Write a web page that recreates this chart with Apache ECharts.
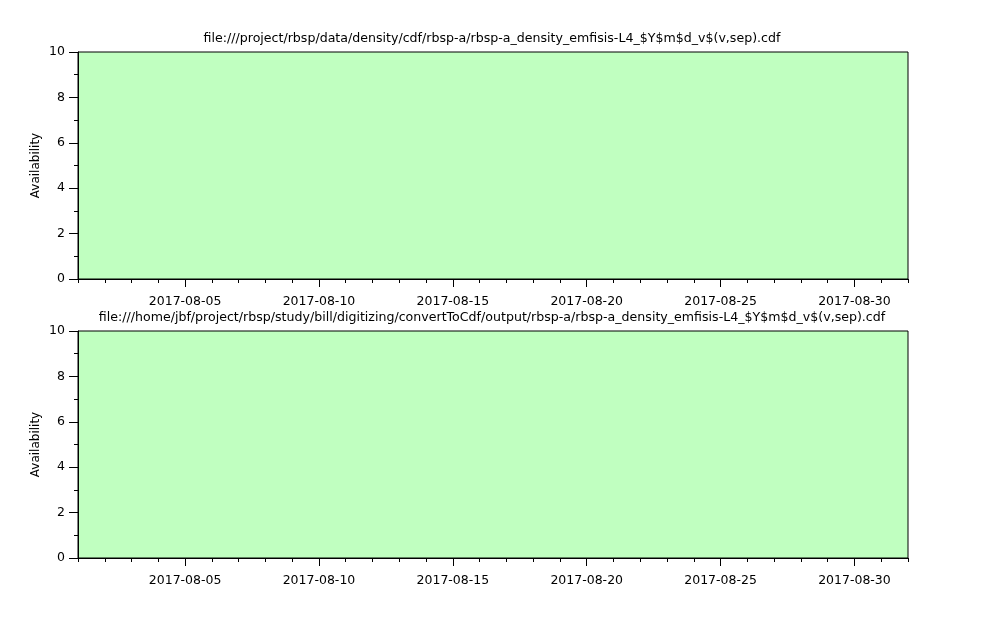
<!DOCTYPE html>
<html>
<head>
<meta charset="utf-8">
<script src="https://cdn.jsdelivr.net/npm/echarts@6/dist/echarts.min.js"></script>
<style>
html,body{margin:0;padding:0;background:#fff;}
#c{width:999px;height:623px;}
</style>
</head>
<body>
<div id="c"></div>
<script>
// ---- data ----
const panelTitles = [
  'file:///project/rbsp/data/density/cdf/rbsp-a/rbsp-a_density_emfisis-L4_$Y$m$d_v$(v,sep).cdf',
  'file:///home/jbf/project/rbsp/study/bill/digitizing/convertToCdf/output/rbsp-a/rbsp-a_density_emfisis-L4_$Y$m$d_v$(v,sep).cdf'
];
const yAxisName = 'Availability';
const xRange = ['2017-08-01', '2017-09-01'];
const majorTickLabels = ['2017-08-05', '2017-08-10', '2017-08-15', '2017-08-20', '2017-08-25', '2017-08-30'];
// availability intervals (start, end) for each panel
const availStart = [['2017-08-01'], ['2017-08-01']];
const availEnd = [['2017-09-01'], ['2017-09-01']];
const availValue = [[10], [10]];
const yMin = 0, yMax = 10, yInterval = 2;

// ---- build ----
const DAY = 86400000;
const t0 = Date.parse(xRange[0] + 'T00:00:00Z');
const t1 = Date.parse(xRange[1] + 'T00:00:00Z');
const dailyTicks = [];
for (let t = t0; t <= t1; t += DAY) dailyTicks.push(t);
const majorTicks = majorTickLabels.map(s => Date.parse(s + 'T00:00:00Z'));

function fmt(v) {
  const d = new Date(v);
  const p = n => String(n).padStart(2, '0');
  return d.getUTCFullYear() + '-' + p(d.getUTCMonth() + 1) + '-' + p(d.getUTCDate());
}

const FONT = 'DejaVu Sans';
const gridTops = [52, 331];
const grids = [], xAxes = [], yAxes = [], series = [], titles = [];
gridTops.forEach((top, i) => {
  grids.push({left: 78, top: top, width: 830, height: 227, show: true,
    borderColor: '#000', borderWidth: 1, backgroundColor: 'transparent', z: 10});
  titles.push({text: panelTitles[i], left: 487, textAlign: 'center', top: top - 25,
    textStyle: {fontFamily: FONT, fontSize: 12.6, fontWeight: 'normal', color: '#000'}});
  // major ticks + labels
  xAxes.push({type: 'value', gridIndex: i, min: t0, max: t1, position: 'bottom',
    axisLine: {show: true, lineStyle: {color: '#000', width: 1}},
    axisTick: {show: true, customValues: majorTicks, length: 8, lineStyle: {color: '#000'}},
    axisLabel: {show: true, customValues: majorTicks, formatter: v => fmt(v), margin: 16.5,
      fontFamily: FONT, fontSize: 12.5, color: '#000'},
    splitLine: {show: false}, z: 11});
  // minor daily ticks
  xAxes.push({type: 'value', gridIndex: i, min: t0, max: t1, position: 'bottom',
    axisLine: {show: false},
    axisTick: {show: true, customValues: dailyTicks, length: 4, lineStyle: {color: '#000'}},
    axisLabel: {show: false},
    splitLine: {show: false}, z: 11});
  yAxes.push({type: 'value', gridIndex: i, min: yMin, max: yMax, interval: yInterval,
    name: yAxisName, nameLocation: 'middle', nameGap: 36, nameRotate: 90,
    nameMoveOverlap: false,
    nameTextStyle: {fontFamily: FONT, fontSize: 12, color: '#000'},
    axisLine: {show: true, lineStyle: {color: '#000', width: 1}},
    axisTick: {show: true, length: 9, lineStyle: {color: '#000'}},
    minorTick: {show: true, splitNumber: 2, length: 4, lineStyle: {color: '#000'}},
    axisLabel: {margin: 13, fontFamily: FONT, fontSize: 12.5, color: '#000'},
    splitLine: {show: false}, minorSplitLine: {show: false}, z: 11});
  const data = [];
  availStart[i].forEach((s, k) => {
    const a = Date.parse(s + 'T00:00:00Z'), b = Date.parse(availEnd[i][k] + 'T00:00:00Z');
    data.push([a, availValue[i][k]]);
    data.push([b, availValue[i][k]]);
  });
  series.push({type: 'line', xAxisIndex: i * 2, yAxisIndex: i, data: data,
    showSymbol: false, silent: true,
    lineStyle: {width: 0, color: '#c0ffc0'},
    areaStyle: {color: '#c0ffc0', opacity: 1}, z: 1});
});

const chart = echarts.init(document.getElementById('c'), null, {renderer: 'canvas'});
chart.setOption({
  animation: false,
  backgroundColor: '#fff',
  title: titles,
  grid: grids,
  xAxis: xAxes,
  yAxis: yAxes,
  series: series
});
</script>
</body>
</html>
